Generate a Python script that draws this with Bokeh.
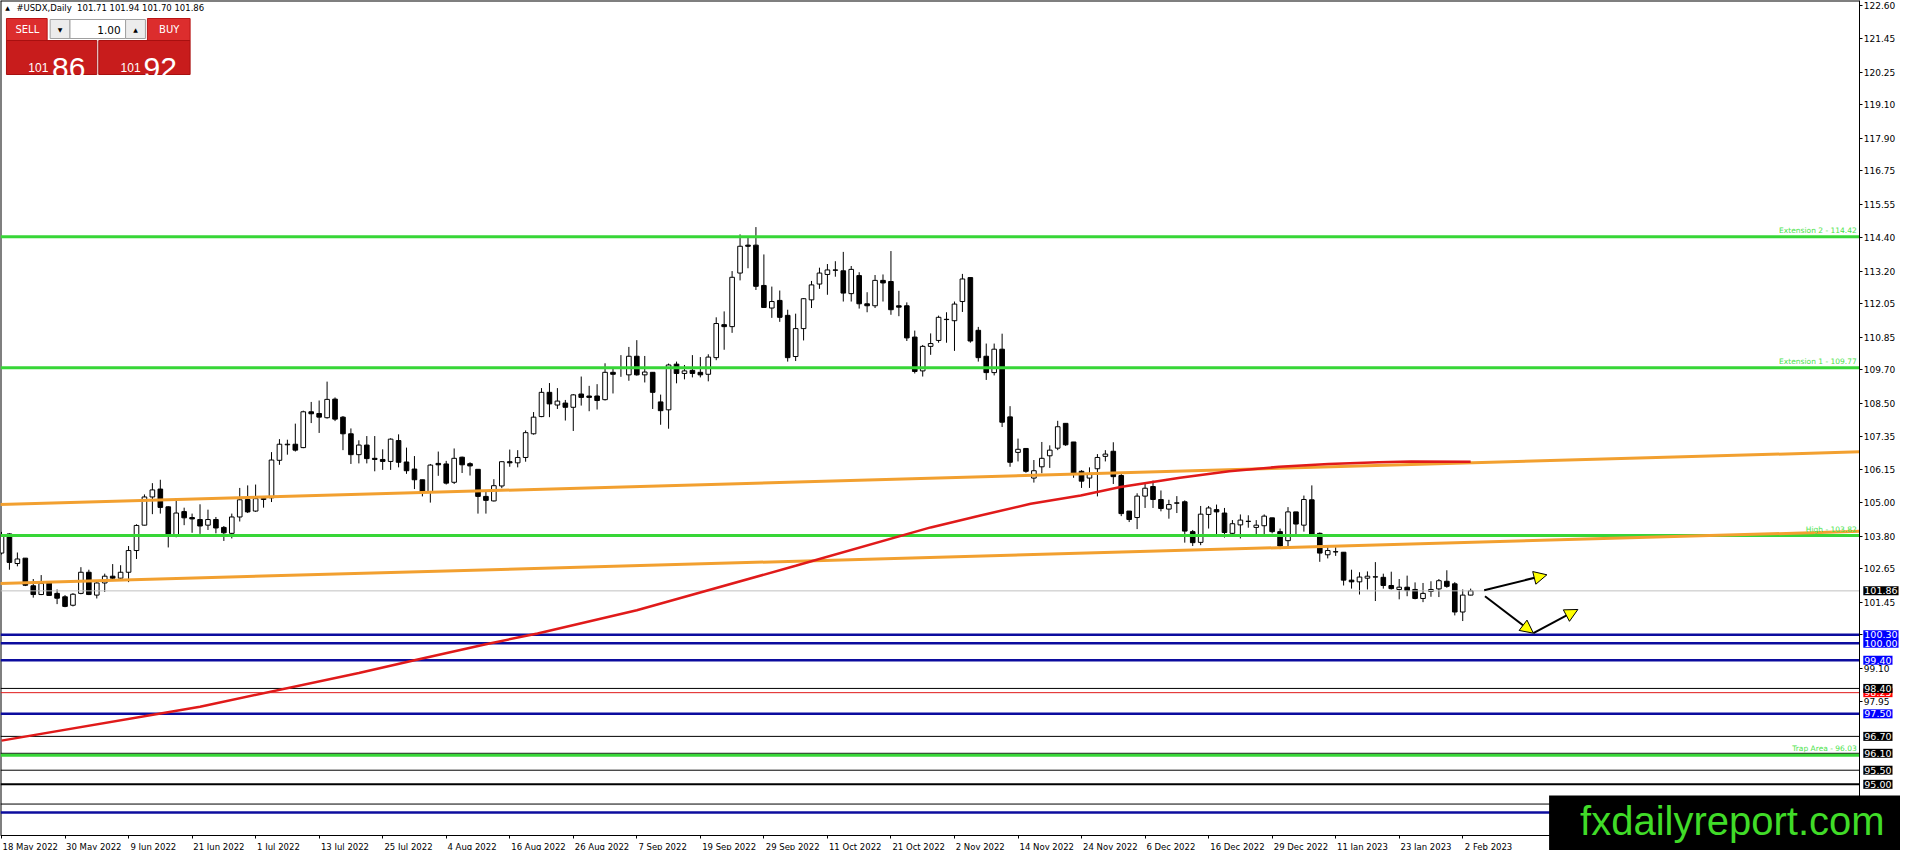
from bokeh.plotting import figure
from bokeh.models import (ColumnDataSource, FixedTicker, PrintfTickFormatter, Label, Arrow,
                          NormalHead, LinearAxis)
from bokeh.core.properties import value
from bokeh.embed import file_html
from bokeh.resources import INLINE

# ---------------- data ----------------
opens = [103.20,103.88,102.83,103.02,102.04,101.73,102.14,101.77,101.65,101.35,
         101.77,102.52,101.71,102.14,102.38,102.31,102.52,103.29,104.19,105.19,
         105.47,104.84,103.79,104.67,104.46,104.39,104.19,104.39,104.11,103.90,
         104.48,105.10,104.69,105.10,105.16,106.49,107.04,107.06,106.94,108.21,
         108.15,108.00,108.66,108.02,107.43,106.69,107.03,106.56,106.52,106.45,
         107.19,106.43,106.18,105.80,105.36,106.38,106.36,105.71,106.60,106.37,
         106.17,105.21,105.05,105.58,106.44,106.40,106.59,107.43,108.04,108.90,
         108.45,108.52,108.37,108.84,108.77,108.77,108.64,109.61,109.77,109.52,
         110.18,109.52,109.61,108.56,108.28,109.90,109.57,109.68,109.61,109.54,
         110.13,111.30,111.23,113.13,114.12,114.12,112.69,111.89,112.16,111.63,
         110.17,111.16,112.18,112.74,113.08,113.24,113.21,112.40,113.04,112.04,
         111.97,112.87,112.83,111.97,111.97,110.86,109.66,110.53,110.74,111.49,
         111.44,112.12,112.97,111.10,110.18,109.60,110.43,108.03,106.77,106.91,
         105.86,106.26,106.65,106.92,107.80,107.14,106.10,105.86,106.19,106.63,
         106.81,105.95,104.69,104.46,105.22,105.56,105.10,104.76,104.98,105.02,
         103.96,103.58,104.57,104.74,104.62,103.90,104.20,104.32,104.11,104.17,
         104.45,103.96,103.64,104.66,104.19,105.09,103.90,103.14,103.24,103.23,
         102.24,102.18,102.31,102.35,102.34,102.05,101.91,101.99,101.91,101.59,
         101.84,101.93,102.20,102.11,101.11,101.71]
highs = [103.95,103.90,103.22,103.02,102.28,102.42,102.20,101.91,101.71,101.78,
         102.70,102.61,102.20,102.47,102.81,102.77,103.45,104.22,105.28,105.68,
         105.80,104.86,105.05,104.81,104.60,104.93,104.74,104.48,104.16,104.60,
         105.51,105.60,105.63,105.21,106.78,107.24,107.22,107.79,108.25,108.56,
         108.61,109.28,108.72,108.06,107.62,107.20,107.35,107.35,106.88,107.27,
         107.41,106.94,106.64,105.80,106.36,106.80,106.47,106.91,106.62,106.42,
         106.17,105.42,105.82,106.46,106.87,106.85,107.55,108.20,109.05,109.23,
         109.05,108.63,108.84,109.46,109.13,109.19,109.93,109.76,110.22,110.51,
         110.75,110.19,109.62,108.82,109.92,109.99,109.87,110.22,110.15,110.25,
         111.56,111.77,113.20,114.50,114.42,114.76,113.79,112.65,112.51,111.83,
         111.69,112.24,112.85,113.32,113.45,113.55,113.88,113.38,113.16,112.45,
         113.06,113.08,113.91,112.50,112.09,111.09,110.58,110.99,111.62,111.74,
         112.12,113.10,112.97,111.22,110.63,110.63,110.98,108.41,107.26,106.91,
         106.50,107.14,107.02,107.89,107.80,107.14,106.14,106.24,106.71,106.85,
         107.13,106.04,104.69,105.32,105.65,105.77,105.42,105.09,105.22,105.07,
         104.02,104.87,104.87,104.92,104.80,104.37,104.57,104.54,104.37,104.57,
         104.45,104.07,104.83,104.66,105.24,105.60,103.93,103.41,103.41,103.23,
         102.61,102.52,102.55,102.88,102.47,102.54,102.28,102.40,102.16,102.14,
         102.20,102.28,102.59,102.17,101.91,101.94]
lows = [103.15,102.61,102.73,102.03,101.62,101.71,101.69,101.39,101.28,101.31,
        101.74,101.71,101.59,101.82,102.25,102.26,102.17,102.99,104.18,104.58,
        104.60,103.40,103.76,104.19,103.92,103.88,104.02,103.90,103.63,103.72,
        104.32,104.62,104.66,104.81,105.01,106.33,106.69,106.80,106.92,107.81,
        107.46,107.97,107.88,106.85,106.36,106.38,106.38,106.10,106.15,106.15,
        106.24,106.01,105.47,105.21,104.99,105.94,105.63,105.65,106.04,105.95,
        104.60,104.60,105.03,105.50,106.26,106.24,106.44,107.40,108.02,108.02,
        108.31,107.90,107.53,108.43,108.23,108.29,108.61,108.86,109.45,109.31,
        109.49,109.25,108.31,107.75,107.61,109.22,109.36,109.43,109.43,109.29,
        110.04,110.41,111.01,112.87,113.30,112.53,111.91,111.54,111.40,109.99,
        110.01,110.74,111.89,112.57,112.36,113.00,112.12,112.12,111.87,111.74,
        111.89,112.12,111.65,111.60,110.72,109.57,109.46,110.23,110.66,110.66,
        110.37,111.75,110.66,109.99,109.34,109.50,107.67,106.26,106.45,106.05,
        105.70,106.03,106.22,106.85,107.00,105.87,105.51,105.51,105.21,106.45,
        105.65,104.51,104.30,104.05,104.80,104.80,104.68,104.42,104.62,103.57,
        103.45,103.48,104.07,103.78,103.75,103.86,103.72,104.10,103.86,103.86,
        103.90,103.34,103.45,103.87,103.96,103.80,102.89,103.01,103.10,102.05,
        101.94,101.73,101.91,101.50,101.94,101.91,101.56,101.67,101.56,101.46,
        101.65,101.64,101.97,100.99,100.79,101.70]
closes = [103.85,102.87,102.99,102.06,101.73,102.12,101.70,101.60,101.31,101.74,
          102.52,101.73,102.14,102.38,102.31,102.52,103.29,104.18,105.19,105.44,
          104.82,103.88,104.62,104.45,104.41,104.16,104.39,104.09,103.92,104.48,
          105.09,104.66,105.13,105.14,106.50,107.06,107.06,106.85,108.21,108.14,
          108.02,108.65,107.95,107.43,106.69,107.03,106.55,106.52,106.45,107.24,
          106.42,106.12,105.80,105.36,106.32,106.33,105.68,106.56,106.33,106.29,
          105.21,105.07,105.59,106.44,106.40,106.59,107.47,108.02,108.90,108.49,
          108.59,108.37,108.81,108.72,108.72,108.61,109.61,109.54,109.78,110.18,
          109.52,109.62,108.90,108.25,109.87,109.57,109.66,109.57,109.52,110.15,
          111.34,111.23,112.98,114.08,114.08,112.66,111.91,112.12,111.56,110.13,
          111.16,112.22,112.71,113.13,113.24,113.23,112.42,113.26,112.04,111.97,
          112.87,112.78,111.83,111.92,110.83,109.64,110.53,110.63,111.56,111.48,
          112.03,112.92,110.72,110.13,109.60,110.43,107.84,106.42,106.88,106.10,
          106.12,106.56,106.85,107.68,107.04,106.03,105.75,106.02,106.59,106.71,
          105.91,104.60,104.39,105.22,105.50,105.10,104.78,104.92,104.97,103.98,
          103.57,104.58,104.80,104.66,103.93,104.24,104.37,104.33,104.19,104.51,
          103.96,103.45,104.66,104.23,105.10,103.86,103.20,103.29,103.25,102.24,
          102.18,102.35,102.38,102.36,102.05,101.94,101.99,101.87,101.59,101.77,
          101.91,102.22,102.02,101.11,101.71,101.86]
bars = list(range(len(closes)))

date_bars = list(range(0, 185, 8))
date_labels = ["18 May 2022", "30 May 2022", "9 Jun 2022", "21 Jun 2022", "1 Jul 2022",
               "13 Jul 2022", "25 Jul 2022", "4 Aug 2022", "16 Aug 2022", "26 Aug 2022",
               "7 Sep 2022", "19 Sep 2022", "29 Sep 2022", "11 Oct 2022", "21 Oct 2022",
               "2 Nov 2022", "14 Nov 2022", "24 Nov 2022", "6 Dec 2022", "16 Dec 2022",
               "29 Dec 2022", "11 Jan 2023", "23 Jan 2023", "2 Feb 2023"]

y_ticks = [122.60, 121.45, 120.25, 119.10, 117.90, 116.75, 115.55, 114.40, 113.20, 112.05,
           110.85, 109.70, 108.50, 107.35, 106.15, 105.00, 103.80, 102.65, 101.45, 100.30,
           99.10, 97.95]

# moving average (sampled along the red curve)
ma_bars = [0, 25, 45, 52, 61, 67.5, 80, 100, 117, 123.4, 129.6, 135.9, 140.9, 148.4,
           154.6, 160.9, 167.1, 173.4, 177.5, 185]
ma_vals = [96.55, 97.75, 98.95, 99.40, 99.97, 100.35, 101.17, 102.75, 104.11, 104.54,
           104.95, 105.24, 105.54, 105.87, 106.10, 106.26, 106.36, 106.42, 106.45, 106.44]

# channel trend lines
upper_x = [-0.375, 234.0]
upper_y = [104.92, 106.79]
lower_x = [-0.375, 234.0]
lower_y = [102.12, 103.97]

green_levels = [114.42, 109.77, 103.82, 96.03]
green_texts = ["Extension 2 - 114.42", "Extension 1 - 109.77", "High - 103.82", "Trap Area - 96.03"]
blue_levels = [100.30, 100.00, 99.40, 97.50, 94.00]
black_levels = [98.40, 96.70, 96.10, 95.50, 94.30]
black_thick_levels = [95.00]
red_levels = [98.25]
bid_level = 101.86

box_levels = [101.86, 100.30, 100.00, 99.40, 98.25, 98.40, 97.50, 96.70, 96.10, 95.50, 95.00]
box_colors = ["black", "#0000ff", "#0000ff", "#0000ff", "#ff0000", "black", "#0000ff",
              "black", "black", "black", "black"]

arrow_x0 = [186.7, 186.8, 192.9]
arrow_y0 = [101.885, 101.67, 100.36]
arrow_x1 = [194.6, 192.9, 198.5]
arrow_y1 = [102.43, 100.36, 101.20]

title_text = "#USDX,Daily\u00a0 101.71 101.94 101.70 101.86"
sell_price = ("101", "86")
buy_price = ("101", "92")
lot_text = "1.00"
watermark = "fxdailyreport.com"

# ---------------- layout ----------------
CW, CH = 1900, 850
KX = 1900 / 1914.0
PPB = 8 * KX            # px per bar
X0 = -0.125             # left frame edge (bar units)
X1 = 234.0              # price axis position
Y1 = 122.795            # top frame edge (price)
Y0 = 93.185             # bottom frame edge (price)
FH = 835                # frame height in px
PPU = FH / (Y1 - Y0)
XR = X0 + CW / PPB
YB = Y1 - CH / PPU

GREEN = "#37d637"
GREEN_T = "#4be34b"
ORANGE = "#f2a030"
RED = "#e01a1a"
BLUE = "#0c0c9e"


def dx(rx):
    # reference pixel column -> bar units
    return X0 + (rx - 2) * KX / PPB


def dyc(cy):
    # canvas pixel row -> price units
    return Y1 - cy / PPU


p = figure(width=CW, height=CH, x_range=(X0, XR), y_range=(YB, Y1),
           x_axis_location=None, y_axis_location=None,
           toolbar_location=None, output_backend="svg",
           min_border=0, min_border_left=0, min_border_right=0, min_border_top=0, min_border_bottom=0,
           background_fill_color="white", border_fill_color="white", outline_line_color=None)
p.grid.visible = False

# price axis (right)
yax = LinearAxis(fixed_location=X1, bounds=(Y0, Y1))
yax.ticker = FixedTicker(ticks=y_ticks)
yax.formatter = PrintfTickFormatter(format="%.2f")
yax.major_tick_out = 3
yax.major_tick_in = 0
yax.minor_tick_out = 0
yax.minor_tick_in = 0
yax.major_label_standoff = 1
yax.major_label_text_font = "DejaVu Sans"
yax.major_label_text_font_size = "9px"
yax.major_label_text_color = "black"
yax.axis_line_color = "black"
yax.major_tick_line_color = "black"
p.add_layout(yax, "right")

# date axis (below); labels start at their tick like the terminal does
W = {' ': .318, '0': .636, '1': .636, '2': .636, '3': .636, '4': .636, '5': .636, '6': .636,
     '7': .636, '8': .636, '9': .636, 'M': .863, 'a': .613, 'y': .592, 'J': .295, 'u': .634,
     'n': .634, 'l': .278, 'A': .684, 'g': .635, 'S': .635, 'e': .615, 'p': .635, 'O': .787,
     'c': .550, 't': .392, 'N': .748, 'o': .612, 'v': .592, 'D': .770, 'F': .575, 'b': .635}
centers = []
for b, lab in zip(date_bars, date_labels):
    w = sum(W.get(ch, .6) for ch in lab) * 8.5
    off = (w / 2 + 1.5) / PPB
    centers.append(b + round(off * 8) / 8)
xax = LinearAxis(fixed_location=Y0, bounds=(X0, X1))
xax.ticker = FixedTicker(ticks=centers, minor_ticks=date_bars)
xax.major_label_overrides = {c: lab for c, lab in zip(centers, date_labels)}
xax.major_tick_out = 0
xax.major_tick_in = 0
xax.minor_tick_out = 3
xax.minor_tick_in = 0
xax.major_label_standoff = 3
xax.major_label_text_font = "DejaVu Sans"
xax.major_label_text_font_size = "8.5px"
xax.major_label_text_color = "black"
xax.axis_line_color = "black"
xax.minor_tick_line_color = "black"
p.add_layout(xax, "below")

# frame top / left edges
p.segment(x0=[X0, X0], y0=[Y1, Y0], x1=[X1, X0], y1=[Y1, Y1], line_color="black", line_width=2)

# candles
tops = [max(o, c) for o, c in zip(opens, closes)]
bots = [min(o, c) for o, c in zip(opens, closes)]
fills = ["white" if c >= o else "black" for o, c in zip(opens, closes)]
src = ColumnDataSource(dict(x=bars, o=opens, h=highs, l=lows, c=closes, top=tops, bottom=bots, fill=fills))
p.segment(x0="x", y0="l", x1="x", y1="h", source=src, line_color="black", line_width=1)
p.vbar(x="x", width=0.58, top="top", bottom="bottom", fill_color="fill", line_color="black",
       line_width=1, source=src)


def hlines(levels, color, width):
    n = len(levels)
    p.segment(x0=[X0] * n, x1=[X1] * n, y0=levels, y1=levels, line_color=color, line_width=width)


hlines([bid_level], "#c0c0c0", 1)
hlines(black_levels, "black", 1)
hlines(black_thick_levels, "black", 2)
hlines(red_levels, RED, 1)
hlines(blue_levels, BLUE, 2.5)
hlines(green_levels, GREEN, 3)

# trend lines and moving average
p.line(upper_x, upper_y, line_color=ORANGE, line_width=3)
p.line(lower_x, lower_y, line_color=ORANGE, line_width=3)
p.line(ma_bars, ma_vals, line_color=RED, line_width=2.5)

# arrows
asrc = ColumnDataSource(dict(x0=arrow_x0, y0=arrow_y0, x1=arrow_x1, y1=arrow_y1))
p.add_layout(Arrow(end=NormalHead(size=13, fill_color="#ffff00", line_color="black", line_width=1),
                   x_start="x0", y_start="y0", x_end="x1", y_end="y1", source=asrc,
                   line_color="black", line_width=2))

# green level texts
for lvl, txt in zip(green_levels, green_texts):
    p.add_layout(Label(x=X1 - 3 / PPB, y=lvl, text=txt, text_align="right", text_baseline="bottom",
                       y_offset=2, text_font="DejaVu Sans", text_font_size="7.5px", text_color=GREEN_T))

# price boxes on the axis
for lvl, col in zip(box_levels, box_colors):
    p.add_layout(Label(x=X1 + 3.5 / PPB, y=lvl, text="%.2f" % lvl, text_align="left",
                       text_baseline="middle", text_font="DejaVu Sans", text_font_size="9.5px",
                       text_color="white", background_fill_color=col, padding=1))

# top-left trading panel (canvas rows)
boxes_l = [8, 52, 72, 128, 150, 8, 101]
boxes_r = [49, 72, 128, 148, 193, 99, 193]
boxes_t = [18, 19, 19, 19, 18, 40, 40]
boxes_b = [40, 38, 38, 38, 40, 74, 74]
boxes_f = ["#dc2d2d", "#ececec", "white", "#ececec", "#dc2d2d", "#c81c1c", "#c81c1c"]
boxes_c = ["#b81414", "#a0a0a0", "#a0a0a0", "#a0a0a0", "#b81414", "#a81010", "#a81010"]
p.quad(left=[dx(v) for v in boxes_l], right=[dx(v) for v in boxes_r],
       top=[dyc(v) for v in boxes_t], bottom=[dyc(v) for v in boxes_b],
       fill_color=boxes_f, line_color=boxes_c, line_width=1)
p.text(x=[dx(29), dx(172)], y=[dyc(29), dyc(29)], text=["SELL", "BUY"], text_align="center",
       text_baseline="middle", text_font=value("DejaVu Sans"), text_font_size="10px", text_color="white")
p.text(x=[dx(62), dx(138)], y=[dyc(29), dyc(29)], text=["\u25bc", "\u25b2"], text_align="center",
       text_baseline="middle", text_font=value("DejaVu Sans"), text_font_size="6px", text_color="black")
p.text(x=[dx(123)], y=[dyc(29)], text=[lot_text], text_align="right", text_baseline="middle",
       text_font=value("DejaVu Sans"), text_font_size="10.5px", text_color="black")
p.text(x=[dx(30), dx(123)], y=[dyc(67), dyc(67)], text=[sell_price[0], buy_price[0]],
       text_align="left", text_baseline="alphabetic", text_font=value("Liberation Sans"),
       text_font_size="12px", text_color="white")
p.text(x=[dx(54), dx(146)], y=[dyc(67), dyc(67)], text=[sell_price[1], buy_price[1]],
       text_align="left", text_baseline="alphabetic", text_font=value("Liberation Sans"),
       text_font_size="30px", text_color="white")
p.text(x=[dx(9)], y=[dyc(7)], text=["\u25b2"], text_align="center", text_baseline="middle",
       text_font=value("DejaVu Sans"), text_font_size="6px", text_color="black")
p.text(x=[dx(18)], y=[dyc(7)], text=[title_text], text_align="left", text_baseline="middle",
       text_font=value("DejaVu Sans"), text_font_size="8.5px", text_color="black")

# watermark (covers the bottom-right corner, above the axes)
p.quad(left=[dx(1562)], right=[XR + 1], top=[dyc(795)], bottom=[YB - 1], fill_color="black",
       line_color=None, level="annotation")
p.text(x=[dx(1900)], y=[dyc(820)], text=[watermark], text_align="right", text_baseline="middle",
       text_font=value("Liberation Sans"), text_font_size="40px", text_color="#40dc28",
       level="annotation")

open("out.html", "w").write(file_html(p, INLINE))
